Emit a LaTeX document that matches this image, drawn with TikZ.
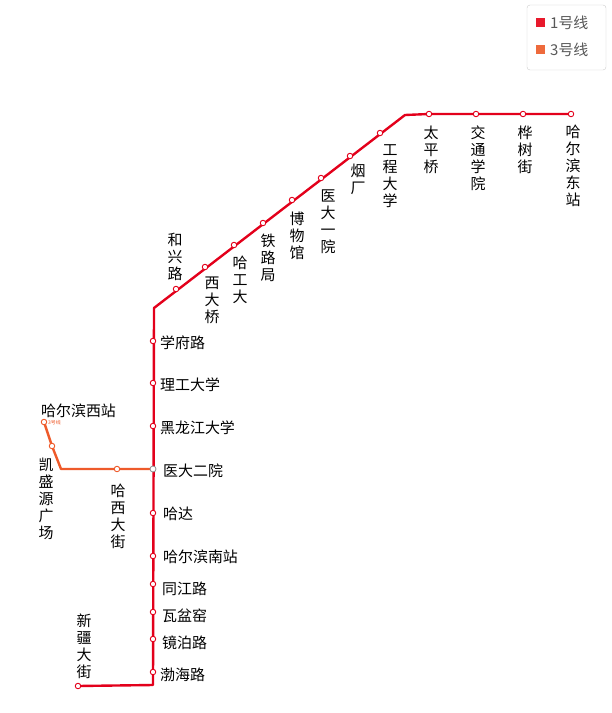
\documentclass[tikz,border=0pt]{standalone}
\usepackage{fontspec}
\setmainfont{Noto Sans CJK SC}
\definecolor{lone}{HTML}{E3001B}
\definecolor{lthree}{HTML}{EE5A2A}
\definecolor{lgd}{HTML}{E8192C}
\definecolor{lgdo}{HTML}{EE6A3C}
\begin{document}
\begin{tikzpicture}[x=1bp,y=-1bp,
 st/.style={circle,draw=#1,fill=white,line width=0.9pt,inner sep=0pt,minimum size=5.5bp},
 st/.default=lone,
 hl/.style={anchor=west,font=\fontsize{15}{17}\selectfont,inner sep=0pt},
 vl/.style={align=center,font=\fontsize{15}{17}\selectfont,inner sep=0pt},
 lineA/.style={draw=lone,line width=2.4pt,line join=round},
 lineC/.style={draw=lthree,line width=2.4pt,line join=round}]
\useasboundingbox (0,0) rectangle (612,713);
% legend
\draw[rounded corners=3bp,draw=black!20,fill=white] (527,5) rectangle (606,70);
\fill[lgd] (536,18) rectangle (545,27);
\fill[lgdo] (536,45) rectangle (545,54);
\node[anchor=west,inner sep=0pt,text=black!65,font=\fontsize{15}{17}\selectfont] (lg1) at (550,23) {1号线};
\node[anchor=west,inner sep=0pt,text=black!65,font=\fontsize{15}{17}\selectfont] (lg3) at (550,50) {3号线};
% coordinates
\coordinate (b1) at (405,115);
\coordinate (b2) at (154,308);
\coordinate (b3) at (153,685);
\coordinate (b4) at (61,469);
% line 1
\draw[lineA] (571,114) -- (429,114) -- (b1) -- (b2) -- (b3) -- (78,686);
% line 3
\draw[lineC] (44,422) -- (52,446) -- (b4) -- (153,469);
% stations line1
\node[st] (s1) at (571,114) {};
\node[st] (s2) at (523,114) {};
\node[st] (s3) at (476,114) {};
\node[st] (s4) at (429,114) {};
\node[st] (s5) at (380,133) {};
\node[st] (s6) at (350,156) {};
\node[st] (s7) at (321,178) {};
\node[st] (s8) at (292,200) {};
\node[st] (s9) at (263,223) {};
\node[st] (s10) at (234,245) {};
\node[st] (s11) at (205,267) {};
\node[st] (s12) at (176,289) {};
\node[st] (s13) at (153,341) {};
\node[st] (s14) at (153,383) {};
\node[st] (s15) at (153,426) {};
\node[circle,draw=black!45,fill=white,line width=0.8pt,inner sep=0pt,minimum size=6bp] (s16) at (153,469) {};
\node[st] (s17) at (153,513) {};
\node[st] (s18) at (153,556) {};
\node[st] (s19) at (153,584) {};
\node[st] (s20) at (153,612) {};
\node[st] (s21) at (153,639) {};
\node[st] (s22) at (153,672) {};
\node[st] (s23) at (78,686) {};
% line 3 stations
\node[st=lthree] (t1) at (44,422) {};
\node[st=lthree] (t2) at (52,446) {};
\node[st=lthree] (t3) at (117,469) {};
\node[anchor=west,inner sep=0pt,text=lthree,font=\fontsize{5}{6}\selectfont] (t1l) at (48,423) {3号线};
% labels
\node[vl] (l1) at (573,166) {哈\\尔\\滨\\东\\站};
\node[vl] (l2) at (525,150) {桦\\树\\街};
\node[vl] (l3) at (478,158) {交\\通\\学\\院};
\node[vl] (l4) at (431,150) {太\\平\\桥};
\node[vl] (l5) at (390,176) {工\\程\\大\\学};
\node[vl] (l6) at (358,179) {烟\\厂};
\node[vl] (l7) at (328,222) {医\\大\\一\\院};
\node[vl] (l8) at (297,236) {博\\物\\馆};
\node[vl] (l9) at (268,258) {铁\\路\\局};
\node[vl] (l10) at (240,280) {哈\\工\\大};
\node[vl] (l11) at (212,300) {西\\大\\桥};
\node[vl] (l12) at (175,257) {和\\兴\\路};
\node[hl] (l13) at (160,343) {学府路};
\node[hl] (l14) at (160,385) {理工大学};
\node[hl] (l15) at (160,428) {黑龙江大学};
\node[hl] (l16) at (163,471) {医大二院};
\node[hl] (l17) at (163,514) {哈达};
\node[hl] (l18) at (163,557) {哈尔滨南站};
\node[hl] (l19) at (162,589) {同江路};
\node[hl] (l20) at (162,616) {瓦盆窑};
\node[hl] (l21) at (162,643) {镜泊路};
\node[hl] (l22) at (160,675) {渤海路};
\node[vl] (l23) at (84,646) {新\\疆\\大\\街};
\node[hl] (l24) at (41,411) {哈尔滨西站};
\node[vl] (l25) at (46,499) {凯\\盛\\源\\广\\场};
\node[vl] (l26) at (118,516) {哈\\西\\大\\街};
\end{tikzpicture}
\end{document}
